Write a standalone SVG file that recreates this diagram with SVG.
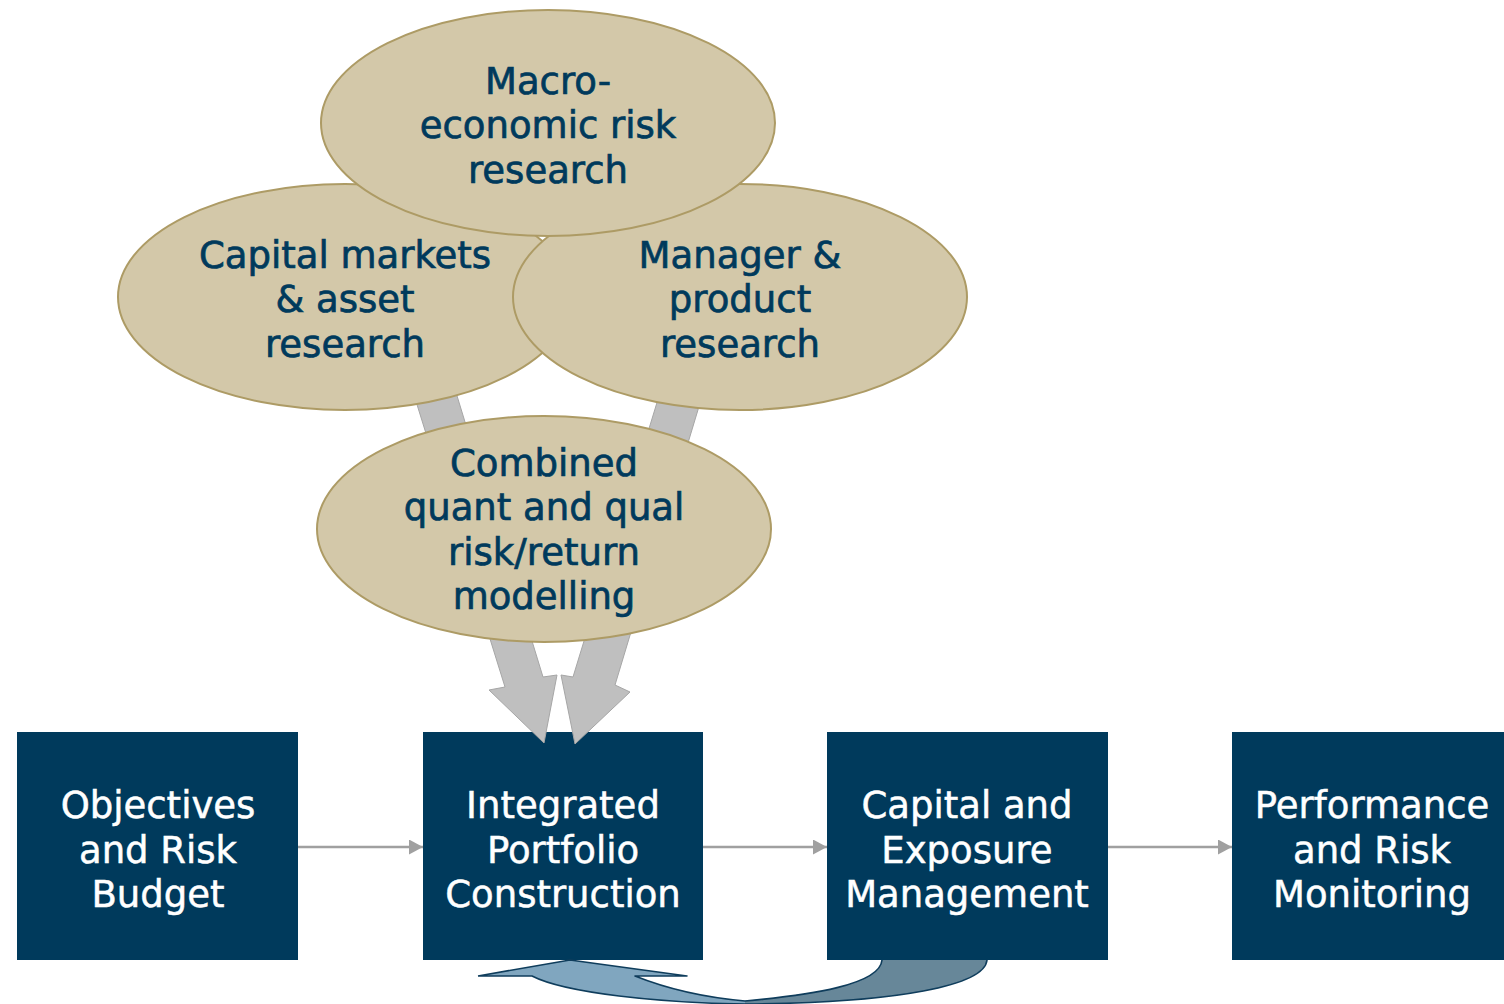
<svg xmlns="http://www.w3.org/2000/svg" width="1504" height="1004" viewBox="0 0 1504 1004">
  <defs>
    <style>
      .oval { fill: #D3C8A9; stroke: #AD9B65; stroke-width: 2; }
      .oval-text { font-family: "DejaVu Sans", Verdana, sans-serif; font-size: 37px; fill: #003A5C; stroke: #003A5C; stroke-width: 0.7; text-anchor: middle; }
      .box { fill: #003A5C; }
      .box-text { font-family: "DejaVu Sans", Verdana, sans-serif; font-size: 37px; fill: #FFFFFF; stroke: #FFFFFF; stroke-width: 0.5; text-anchor: middle; }
      .feed { fill: #BFBFBF; stroke: #A6A6A6; stroke-width: 1; }
      .link { stroke: #A0A0A0; stroke-width: 2.5; fill: none; }
      .loop-edge { stroke: #0F3D5C; stroke-width: 1.6; stroke-linejoin: round; fill: none; }
    </style>
    <marker id="arrow" viewBox="0 0 14 15" refX="14" refY="7.5" markerWidth="14" markerHeight="15" markerUnits="userSpaceOnUse" orient="auto">
      <path d="M0,0 L14,7.5 L0,15 Z" fill="#A0A0A0"/>
    </marker>
  </defs>

  <rect width="1504" height="1004" fill="#FFFFFF"/>

  <g id="node-objectives">
    <rect class="box" x="17" y="732" width="281" height="228"/>
    <text class="box-text"><tspan x="158" y="818">Objectives</tspan><tspan x="158" y="863">and Risk</tspan><tspan x="158" y="907">Budget</tspan></text>
  </g>

  <g id="node-integrated">
    <rect class="box" x="423" y="732" width="280" height="228"/>
    <text class="box-text"><tspan x="563" y="818">Integrated</tspan><tspan x="563" y="863">Portfolio</tspan><tspan x="563" y="907">Construction</tspan></text>
  </g>

  <g id="node-capital-exposure">
    <rect class="box" x="827" y="732" width="281" height="228"/>
    <text class="box-text"><tspan x="967" y="818">Capital and</tspan><tspan x="967" y="863">Exposure</tspan><tspan x="967" y="907">Management</tspan></text>
  </g>

  <g id="node-performance">
    <rect class="box" x="1232" y="732" width="280" height="228"/>
    <text class="box-text"><tspan x="1372" y="818">Performance</tspan><tspan x="1372" y="863">and Risk</tspan><tspan x="1372" y="907">Monitoring</tspan></text>
  </g>

  <!-- block arrows from the research ovals run behind the ovals and end just inside the construction box -->
  <g id="connectors">
    <polygon class="feed" points="400,350 505,687 489,690 544,743 557,675 543,677 443,350"/>
    <polygon class="feed" points="670,360 573,677 561,675 575,744 630,692 615,685 713,360"/>
    <line class="link" x1="298" y1="847" x2="423" y2="847" marker-end="url(#arrow)"/>
    <line class="link" x1="703" y1="847" x2="827" y2="847" marker-end="url(#arrow)"/>
    <line class="link" x1="1108" y1="847" x2="1232" y2="847" marker-end="url(#arrow)"/>

    <!-- feedback loop: curved arrow from exposure management back to construction -->
    <g id="feedback-loop">
      <path fill="#678799" d="M742,1001 C810,995 880,985 882,960 L987,960 C985,985 900,1003 742,1004 Z"/>
      <path fill="#80A6BF" d="M570,960 L687,976 L635,976 C665,988 700,997 745,1001 L745,1004 C660,1003 565,993 532,976 L478,976 Z"/>
      <path class="loop-edge" d="M478,976 L570,960 L687,976 L635,976 C665,988 700,997 745,1001 C810,995 880,985 882,960 M987,960 C985,985 900,1003 745,1004 C660,1003 565,993 532,976 L478,976"/>
    </g>
  </g>

  <g id="node-capital-markets">
    <ellipse class="oval" cx="345" cy="297" rx="227" ry="113"/>
    <text class="oval-text"><tspan x="345" y="268">Capital markets</tspan><tspan x="345" y="312">&amp; asset</tspan><tspan x="345" y="357">research</tspan></text>
  </g>

  <g id="node-manager">
    <ellipse class="oval" cx="740" cy="297" rx="227" ry="113"/>
    <text class="oval-text"><tspan x="740" y="268">Manager &amp;</tspan><tspan x="740" y="312">product</tspan><tspan x="740" y="357">research</tspan></text>
  </g>

  <g id="node-macro">
    <ellipse class="oval" cx="548" cy="123" rx="227" ry="113"/>
    <text class="oval-text"><tspan x="548" y="94">Macro-</tspan><tspan x="548" y="138">economic risk</tspan><tspan x="548" y="183">research</tspan></text>
  </g>

  <g id="node-combined">
    <ellipse class="oval" cx="544" cy="529" rx="227" ry="113"/>
    <text class="oval-text"><tspan x="544" y="476">Combined</tspan><tspan x="544" y="520">quant and qual</tspan><tspan x="544" y="565">risk/return</tspan><tspan x="544" y="609">modelling</tspan></text>
  </g>
</svg>
